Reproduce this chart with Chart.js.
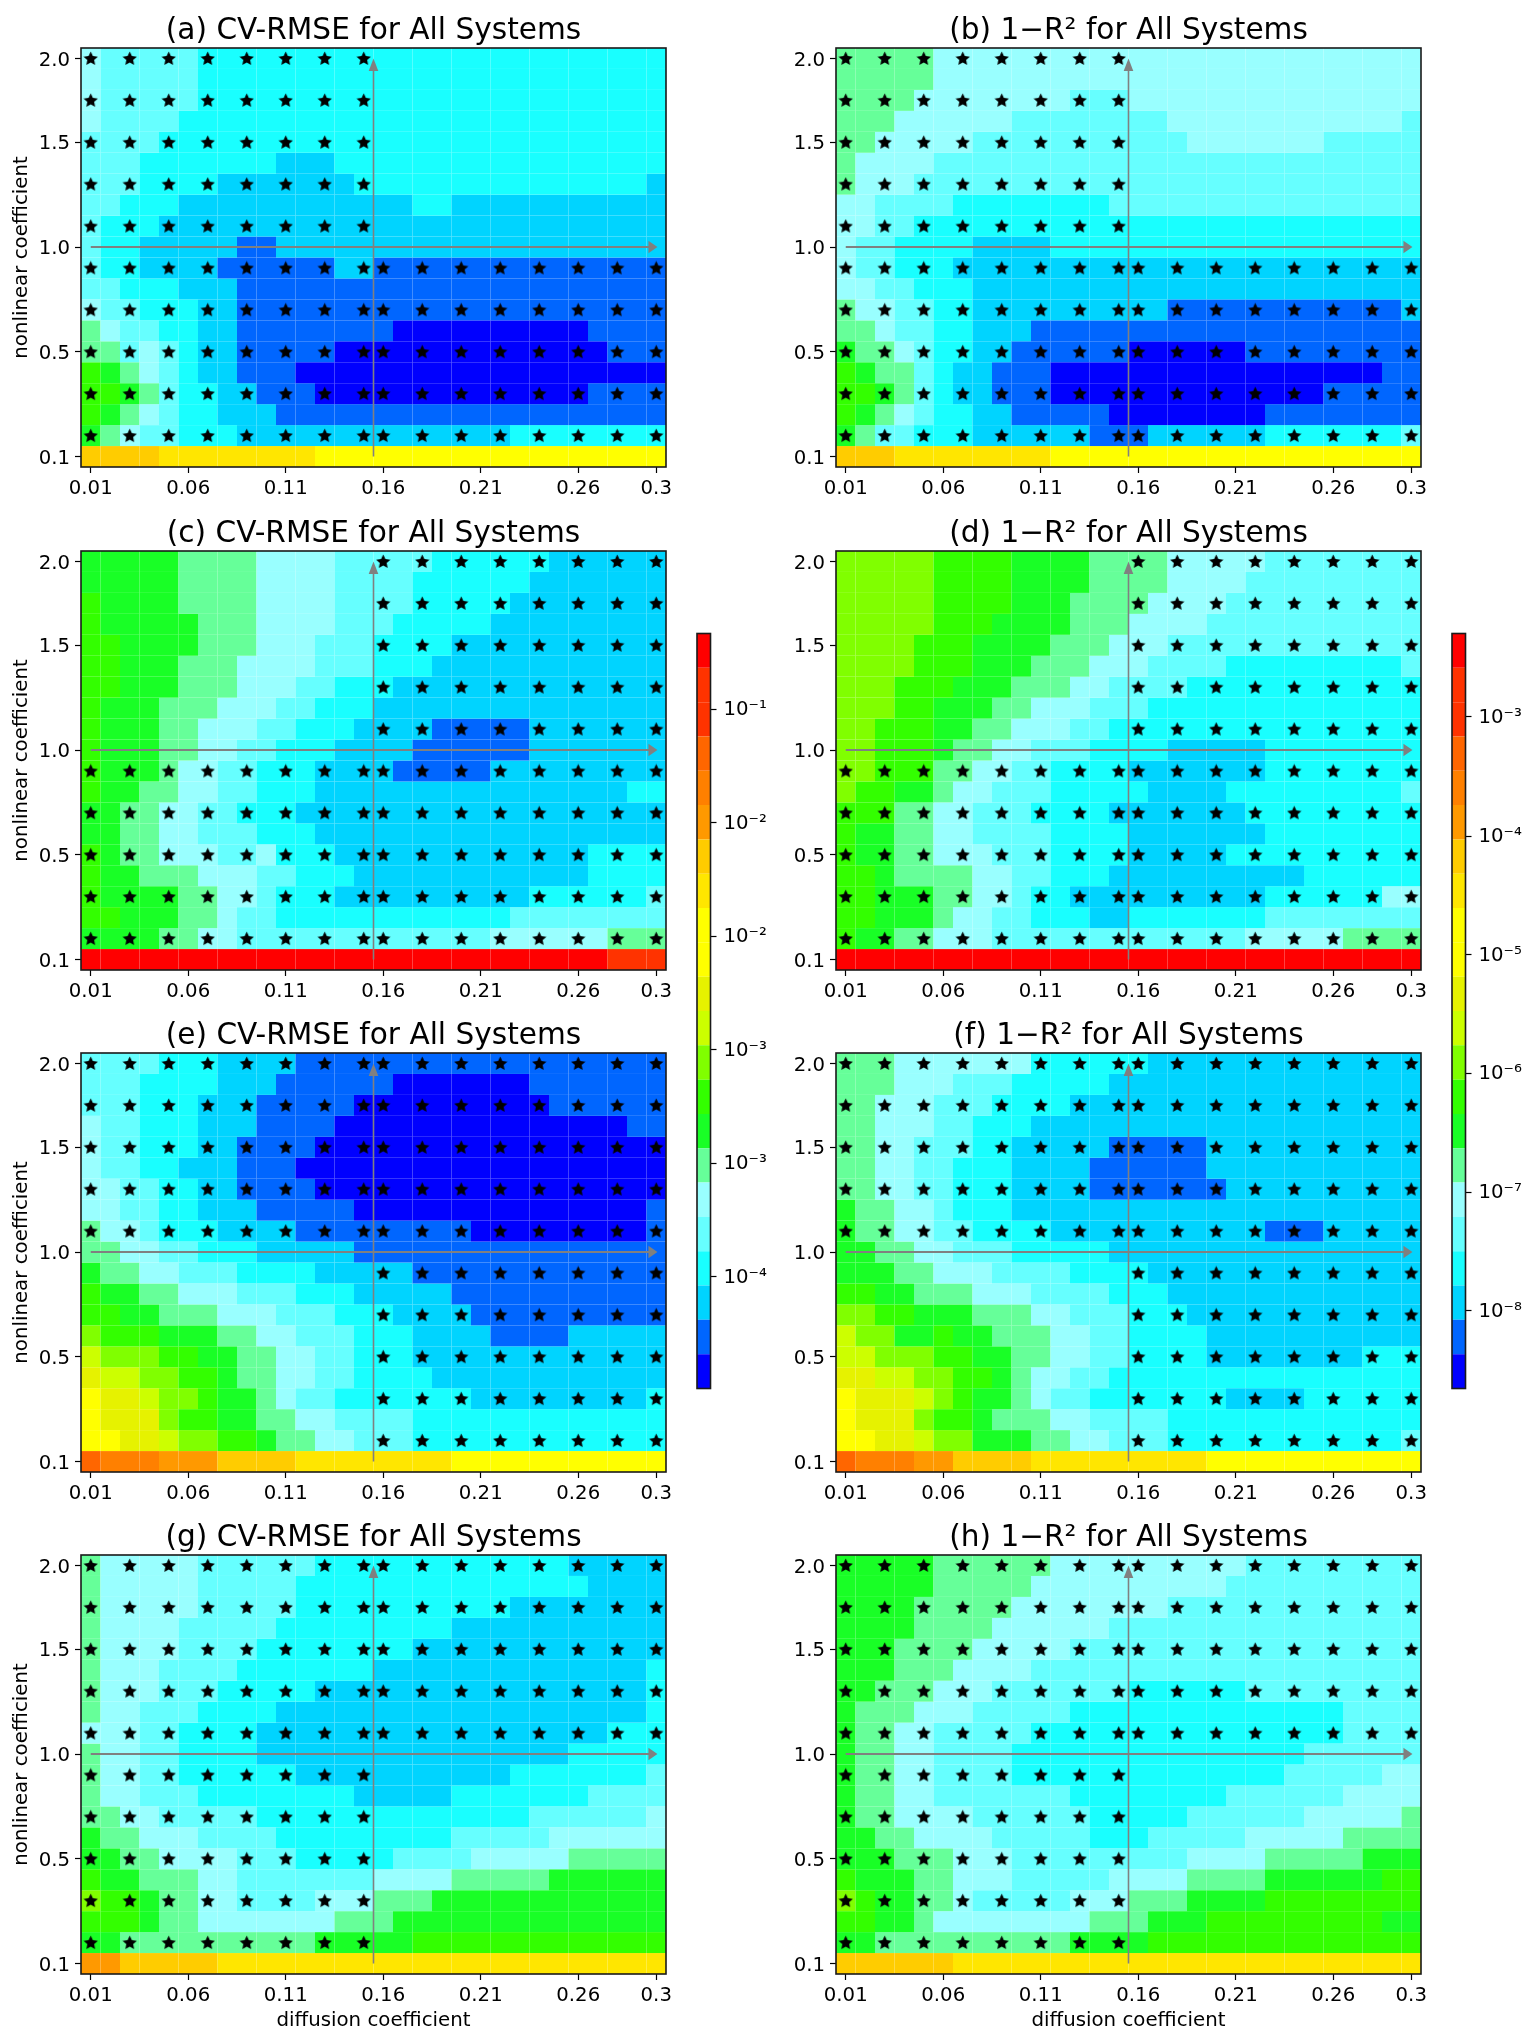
<!DOCTYPE html>
<html>
<head>
<meta charset="utf-8">
<title>CV-RMSE and 1-R2 heatmaps</title>
<script src="https://cdn.jsdelivr.net/npm/chart.js@4"></script>
<style>
  html, body { margin: 0; padding: 0; background: #fff; }
  #page { position: relative; width: 1540px; height: 2039px; overflow: hidden; }
  canvas { position: absolute; }
</style>
</head>
<body>
<div id="page"></div>
<script>
// axis categories and tick labels
const diffusion = ['0.01','0.02','0.03','0.04','0.05','0.06','0.07','0.08','0.09','0.1',
                   '0.11','0.12','0.13','0.14','0.15','0.16','0.17','0.18','0.19','0.2',
                   '0.21','0.22','0.23','0.24','0.25','0.26','0.27','0.28','0.29','0.3'];
const xTickLabels = ['0.01','0.06','0.11','0.16','0.21','0.26','0.3'];
const yTickRows = [0, 5, 10, 15, 19];
const yTickLabels = ['0.1','0.5','1.0','1.5','2.0'];

// colour bands of the colorbar, bottom to top
const bandColors = ['#0000ff','#0066ff','#00d4ff','#19ffff','#66ffff','#99ffff','#66ff99','#19ff26',
                    '#33ff00','#80ff00','#ccff00','#e6f200','#ffff00','#ffff00','#ffe600','#ffcc00',
                    '#ff9900','#ff8000','#ff6600','#ff3300','#ff3300','#ff0000'];
const cvTickPos = [19.79, 16.49, 13.18, 9.88, 6.56, 3.25];
const cvTickLabels = ['10⁻¹','10⁻²','10⁻²','10⁻³','10⁻³','10⁻⁴'];
const r2TickPos = [19.57, 16.09, 12.64, 9.19, 5.72, 2.26];
const r2TickLabels = ['10⁻³','10⁻⁴','10⁻⁵','10⁻⁶','10⁻⁷','10⁻⁸'];

// cells: one string per row, top row first.
// each token is band (base 22) x run length over the 30 columns
const panelA = [
  '5 4x5 3x24', '5 4x5 3x24', '5 4x5 3x24', '5 4x4 3x25', '4x4 3x26',
  '4x3 3x7 2x3 3x17', '4x3 3x4 2x7 3x15 2', '4x2 3x3 2x12 3x2 2x11', '4 3x3 2x26', '4 3x2 2x5 1x2 2x20',
  '4 3x2 2x4 1x6 2x2 1x15', '4x2 3x3 2x3 1x22', '5 4x2 3x3 2x2 1x22', '6 5 4x2 3x2 2x2 1x8 0x10 1x4', '6x2 4 5 4 3 2x2 1x5 0x14 1x3',
  '8 7 6 5 4 3 2x2 1x3 0x19', '8x2 7 6 4 3x2 2x2 1x3 0x14 1x4', '8 7 6 5 4 3x2 2x3 1x20', '7 6 5 4x2 3x3 2x14 3x8', 'fx4 ex8 cx18'
];
const panelB = [
  '6x5 5x25', '6x5 5x25', '6x4 5x8 4x3 5x15', '6x3 5x6 4x8 5x12 4', '6x2 5x5 4x11 5x7 4x5',
  '6 5x4 4x25', '6 5x3 4x26', '5x2 4x4 3x8 4x16', '5x2 4x2 3x26', '5 4x2 3x4 2x4 3x19',
  '5 4x2 3x3 2x24', '5x2 4x2 3x3 2x23', '6 5x2 4x2 3x2 2x10 1x12 2', '6x2 5 4x2 3x2 2x3 1x20', '7 6x2 5 4 3x2 2x2 1x6 0x6 1x9',
  '8 7 6x2 4 3 2x2 1x3 0x17 1x2', '8x2 7 6 4 3 2x2 1x3 0x14 1x5', '8 7 6 5 4 3x2 2x2 1x5 0x8 1x8', '7 6 4x2 3x3 2x6 1x3 2x6 3x7 4', 'fx3 ex8 cx19'
];
const panelC = [
  '7x5 6x4 5x4 4x5 3x6 2x6', '7x5 6x4 5x4 4x4 3x6 2x7', '8 7x4 6x4 5x4 4x4 3x5 2x8', '8 7x5 6x3 5x4 4x3 3x5 2x9', '8x2 7x4 6x3 5x3 4x3 3x4 2x11',
  '8x2 7x3 6x3 5x4 4x3 3x3 2x12', '8x2 7x3 6x3 5x3 4x2 3x3 2x14', '8 7x3 6x3 5x3 4x2 3x3 2x15', '8 7x3 6x2 5x3 4x2 3x3 2x4 1x5 2x7', '8 7x3 6x2 5x2 4x2 3x3 2x4 1x6 2x7',
  '8 7x3 6 5x2 4x2 3x3 2x4 1x5 2x9', '8 7x2 6x2 5x2 4x2 3x3 2x16 3x2', '7x2 6x2 5x2 4x2 3x3 2x19', '7x2 6x2 5x2 4x3 3x3 2x18', '8 7 6x2 5x3 4x2 5 3x3 2x13 3x4',
  '8 7x2 6x3 5x3 4x2 3x3 2x12 3x4', '8 7x4 6x2 5x2 4 3x3 2x10 3x6 4', '8x2 7x3 6x2 5 4x2 3x12 4x8', '7x4 6x2 5x2 4x13 5x6 6x3', 'lx27 jx3'
];
const panelD = [
  '9x5 8x4 7x4 6x4 5x5 4x8', '9x5 8x4 7x4 6x4 5x4 4x9', '9x5 8x4 7x3 6x4 5x4 4x10', '9x5 8x3 7x4 6x3 5x4 4x11', '9x4 8x3 7x4 6x3 5x3 4x13',
  '9x4 8x3 7x3 6x3 5x3 4x4 3x9 4', '9x3 8x3 7x3 6x3 5x2 4x4 3x12', '9x3 8x2 7x3 6x2 5x3 4x3 3x14', '9x2 8x3 7x2 6x2 5x3 4x2 3x16', '9x2 8x3 7 6x2 5x2 4x3 3x4 2x5 3x8',
  '9x2 8x3 6x2 5x2 4x2 3x4 2x7 3x8', '9 8x2 7x2 6 5x2 4x3 3x5 2x4 3x9 4', '8x3 6x2 5x2 4x3 3x4 2x7 3x9', '8 7x2 6x2 5x2 4x4 3x4 2x7 3x8', '8 7x2 6x2 5x3 4x3 3x4 2x5 3x10',
  '8x2 7 6x4 5x2 4x2 3x3 2x10 3x6', '8x2 7x3 6x2 5x2 4 3x2 2x10 3x6 5x2', '8x2 7x3 6 5x2 4x2 3x3 2x2 3x7 4x8', '8 7x2 6x2 5x3 4x13 5x5 6x4', 'lx30'
];
const panelE = [
  '4x4 3x3 2x4 1x19', '4x3 3x4 2x3 1x6 0x7 1x7', '4x3 3x3 2x3 1x5 0x10 1x6', '5 4x2 3x3 2x3 1x4 0x15 1x2', '5 4x2 3x3 2x2 1x4 0x18',
  '5 4x2 3x2 2x3 1x3 0x19', '5x2 4x2 3x2 2x2 1x4 0x18', '5x2 4x2 3x2 2x3 1x5 0x15 1', '6 5x2 4 3x3 2x4 1x9 0x9 1', '6x2 5x2 4x2 3x3 2x5 1x16',
  '7 6x2 5x2 4x3 3x4 2x5 1x13', '8 7x2 6x2 5x3 4x3 3x3 2x5 1x11', '8x2 7x2 6x3 5x3 4x3 3x3 2x4 1x10', '9 8x3 7x3 6x2 5x2 4x3 3x3 2x4 1x4 2x5', 'a 9x3 8x2 7x2 6x2 5x2 4x2 3x3 2x13',
  'b ax2 9x2 8x2 7 6x2 5x2 4x2 3x4 2x12', 'c bx2 a 9x2 8 7x2 6 5 4x2 3x7 2x9 3', 'c bx3 9 8x2 7x2 6x2 5x2 4x4 3x13', 'cx2 bx2 a 9x2 8x2 7 6x2 5x2 4x3 3x13', 'i hx3 gx3 fx4 ex8 cx11'
];
const panelF = [
  '6x3 5x7 3x6 2x14', '6x3 5x3 4x3 3x5 2x16', '6x2 5x3 4x3 3x4 2x18', '6x2 5x3 4x2 3x3 2x20', '6x2 5x2 4x3 3x2 2x5 1x5 2x11',
  '6x2 5x2 4x2 3x3 2x4 1x6 2x11', '6x2 5x2 4x2 3x3 2x4 1x7 2x10', '7 6x2 5x2 4 3x3 2x21', '7 6x2 5x2 4x2 3x4 2x11 1x3 2x5', '7x2 6x2 5x2 4x3 3x5 2x16',
  '7x3 6x2 5x3 4x4 3x4 2x14', '8x2 7x2 6x3 5x3 4x4 3x3 2x13', '9x2 8x2 7x3 6x3 5x2 4x3 3x3 2x12', 'a 9x2 7x2 8 7x2 6x3 5x2 4x2 3x4 2x11', 'ax2 9x3 8x2 7x2 6x2 5x2 4x2 3x4 2x8 3x3',
  'bx2 ax2 9x2 8x2 7 6 5x2 4x2 3x16', 'c bx3 a 9 8 7x2 6 5 4x2 3x7 2x4 3x6', 'c bx3 9 8x2 7 6x3 5x2 4x4 3x13', 'cx2 bx2 a 9x2 7x3 6x2 5x2 4x3 3x12 4', 'i hx3 gx2 fx4 ex9 cx11'
];
const panelG = [
  '6 5x5 4x6 3x13 2x5', '6 5x5 4x5 3x15 2x4', '6 5x5 4x5 3x11 2x8', '6 5x4 4x5 3x9 2x11', '6 5x4 4x4 3x8 2x13',
  '6 5x3 4x4 3x7 2x14 3', '6 5x3 4x3 3x5 2x17 3', '6 5x2 4x3 3x4 2x19 3', '5x3 4x2 3x4 2x18 3x3', '6 5x2 4x2 3x4 2x16 3x5',
  '6 5x2 4x2 3x6 2x11 3x7 4', '6 5x2 4x3 3x8 2x5 3x7 4x4', '6x2 5x2 4x5 3x14 4x6 5', '7 6x2 5x3 4x4 3x9 4x5 5x6', '7x2 6x2 5x4 4x3 3x5 4x4 5x5 6x5',
  '8 7x2 6x3 5x2 4x7 5x4 6x5 7x6', '9 8x2 7 6x2 5x2 4x4 5x3 6x3 7x12', '8x3 7 6x2 5x7 6x3 7x14', '7x2 6x10 7x5 8x13', 'gx2 fx5 ex23'
];
const panelH = [
  '7x5 6x6 5x10 4x9', '7x5 6x5 5x10 4x10', '7x4 6x5 5x8 4x13', '7x4 6x4 5x6 4x16', '7x3 6x4 5x5 4x18',
  '7x3 6x3 5x4 4x20', '7x2 6x3 5x3 4x7 3x6 4x9', '7 6x3 5x3 4x5 3x14 4x4', '7 6x2 5x2 4x5 3x16 4x4', '7 6x2 5x2 4x4 3x15 4x6',
  '7 6x2 5x2 4x4 3x14 4x5 5x2', '7 6x2 5x2 4x7 3x8 4x6 5x4', '7 6x2 5x4 4x6 3x5 4x6 5x5 6', '7x2 6x2 5x4 4x5 3x3 4x5 5x5 6x4', '7x3 6x3 5x3 4x9 5x4 6x5 7x3',
  '8 7x3 6x2 5x3 4x5 5x4 6x4 7x6 8x2', '9 8 7x2 6x2 5 4x5 5x3 6x3 7x4 8x8', '8x2 7x2 6 5x8 6x3 7x3 8x9 7x2', '7x2 6x10 7x4 8x14', 'fx6 ex24'
];

// stars sit on every other row/column, some quadrants stay empty
const starCols = [0,2,4,6,8,10,12,14,15,17,19,21,23,25,27,29];
const starRows = [0,2,4,6,8,10,12,14,16,18];

const panels = [
  { title: '(a) CV-RMSE for All Systems', rows: panelA, left: 0,   top: 0,    quads: ['tl','bl','br'] },
  { title: '(b) 1−R² for All Systems',    rows: panelB, left: 755, top: 0,    quads: ['tl','bl','br'] },
  { title: '(c) CV-RMSE for All Systems', rows: panelC, left: 0,   top: 503,  quads: ['tr','bl','br'] },
  { title: '(d) 1−R² for All Systems',    rows: panelD, left: 755, top: 503,  quads: ['tr','bl','br'] },
  { title: '(e) CV-RMSE for All Systems', rows: panelE, left: 0,   top: 1005, quads: ['tl','tr','br'] },
  { title: '(f) 1−R² for All Systems',    rows: panelF, left: 755, top: 1005, quads: ['tl','tr','br'] },
  { title: '(g) CV-RMSE for All Systems', rows: panelG, left: 0,   top: 1507, quads: ['tl','tr','bl'] },
  { title: '(h) 1−R² for All Systems',    rows: panelH, left: 755, top: 1507, quads: ['tl','tr','bl'] }
];

const FONT = '"DejaVu Sans", sans-serif';
Chart.defaults.font.family = FONT;
Chart.defaults.color = '#000';
Chart.defaults.animation = false;

function expandRow(row) {
  return row.split(' ').flatMap(t => {
    const [band, n] = t.split('x');
    return Array(Number(n || 1)).fill(parseInt(band, 22));
  });
}

function addCanvas(left, top, w, h) {
  const c = document.createElement('canvas');
  c.width = w;
  c.height = h;
  c.style.left = left + 'px';
  c.style.top = top + 'px';
  c.style.width = w + 'px';
  c.style.height = h + 'px';
  document.getElementById('page').appendChild(c);
  return c;
}

// filled five point star, chart.js only has the stroked one
function makeStar(size) {
  const c = document.createElement('canvas');
  c.width = size;
  c.height = size;
  const g = c.getContext('2d');
  const R = size / 2, r = R * 0.48;
  g.fillStyle = '#000';
  g.beginPath();
  for (let i = 0; i < 10; i++) {
    const rad = i % 2 ? r : R;
    const a = -Math.PI / 2 + i * Math.PI / 5;
    const px = R + rad * Math.cos(a), py = R + 0.5 + rad * Math.sin(a);
    if (i === 0) g.moveTo(px, py); else g.lineTo(px, py);
  }
  g.closePath();
  g.fill();
  return c;
}
const starImage = makeStar(15);

const framePlugin = {
  id: 'frame',
  afterDraw(chart) {
    const { ctx, chartArea: a } = chart;
    ctx.save();
    ctx.strokeStyle = '#1a1a1a';
    ctx.lineWidth = 1.6;
    ctx.strokeRect(a.left, a.top, a.right - a.left, a.bottom - a.top);
    ctx.restore();
  }
};

function arrowHead(ctx, tipX, tipY, baseX, baseY, halfW) {
  const vertical = tipX === baseX;
  ctx.beginPath();
  ctx.moveTo(tipX, tipY);
  if (vertical) {
    ctx.lineTo(baseX - halfW, baseY);
    ctx.lineTo(baseX + halfW, baseY);
  } else {
    ctx.lineTo(baseX, baseY - halfW);
    ctx.lineTo(baseX, baseY + halfW);
  }
  ctx.closePath();
  ctx.fill();
}

// the two grey arrows through the middle of every panel
const arrowPlugin = {
  id: 'arrows',
  afterDatasetsDraw(chart) {
    const { ctx, scales: { x, y } } = chart;
    ctx.save();
    ctx.strokeStyle = '#808080';
    ctx.fillStyle = '#808080';
    const hy = y.getPixelForValue(10);
    const x0 = x.getPixelForValue(0), x1 = x.getPixelForValue(29.06);
    ctx.lineWidth = 2;
    ctx.beginPath();
    ctx.moveTo(x0, hy);
    ctx.lineTo(x1 - 8, hy);
    ctx.stroke();
    arrowHead(ctx, x1, hy, x1 - 9, hy, 6.2);
    const vx = x.getPixelForValue(14.5);
    const y0 = y.getPixelForValue(0), y1 = y.getPixelForValue(19);
    ctx.lineWidth = 1.6;
    ctx.beginPath();
    ctx.moveTo(vx, y0);
    ctx.lineTo(vx, y1 + 10);
    ctx.stroke();
    arrowHead(ctx, vx, y1, vx, y1 + 12.5, 4.8);
    ctx.restore();
  }
};

function drawPanel(p, idx) {
  const isLeft = idx % 2 === 0;
  const isBottom = idx >= 6;
  const canvas = addCanvas(p.left, p.top, 696, 527);
  const cells = p.rows.map(expandRow);

  const datasets = cells.map((bands, r) => {
    const yVal = cells.length - 1 - r;
    return {
      type: 'bar',
      data: bands.map(() => [yVal - 0.5, yVal + 0.5]),
      backgroundColor: bands.map(b => bandColors[b]),
      borderWidth: 0,
      inflateAmount: 0,
      barPercentage: 1,
      categoryPercentage: 1,
      order: 2
    };
  });

  const stars = [];
  starRows.forEach(r => {
    starCols.forEach(c => {
      const q = (r <= 8 ? 't' : 'b') + (c <= 14 ? 'l' : 'r');
      if (p.quads.includes(q)) stars.push({ x: diffusion[c], y: cells.length - 1 - r });
    });
  });
  datasets.push({
    type: 'line',
    data: stars,
    showLine: false,
    pointStyle: starImage,
    pointRadius: 7,
    order: 1
  });

  new Chart(canvas, {
    data: { labels: diffusion, datasets },
    plugins: [framePlugin, arrowPlugin],
    options: {
      responsive: false,
      layout: { padding: { right: 30 } },
      plugins: {
        legend: { display: false },
        tooltip: { enabled: false },
        title: {
          display: true,
          text: p.title,
          fullSize: false,
          color: '#000',
          font: { size: 29.6, weight: 'normal', lineHeight: 1.1 },
          padding: { top: 14.7, bottom: 0.74 }
        }
      },
      scales: {
        x: {
          type: 'category',
          stacked: true,
          offset: true,
          grid: { offset: false, drawOnChartArea: false, tickLength: 6, tickColor: '#000', tickWidth: 1.2 },
          border: { display: false },
          ticks: { autoSkip: false, maxRotation: 0, padding: 4, font: { size: 19.7 } },
          afterBuildTicks: axis => {
            axis.ticks = axis.ticks.filter(t => xTickLabels.includes(diffusion[t.value]));
          },
          afterFit: axis => { axis.height = 60; },
          title: {
            display: isBottom,
            text: 'diffusion coefficient',
            font: { size: 19.8 },
            padding: { top: 0, bottom: 1.5 }
          }
        },
        y: {
          type: 'linear',
          stacked: false,
          min: -0.5,
          max: 19.5,
          grid: { drawOnChartArea: false, tickLength: 6, tickColor: '#000', tickWidth: 1.2 },
          border: { display: false },
          ticks: {
            autoSkip: false,
            padding: 5,
            labelOffset: 2,
            font: { size: 19.7 },
            callback: v => yTickLabels[yTickRows.indexOf(v)]
          },
          afterBuildTicks: axis => {
            axis.ticks = yTickRows.map(v => ({ value: v }));
          },
          afterFit: axis => { axis.width = 81; },
          title: {
            display: isLeft,
            text: 'nonlinear coefficient',
            font: { size: 19.8 },
            padding: { top: 10, bottom: 0 }
          }
        }
      }
    }
  });
}

function drawColorbar(left, tickPos, tickLabels) {
  const canvas = addCanvas(left, 623, 90, 776);
  const datasets = bandColors.map(col => ({
    data: [1],
    backgroundColor: col,
    borderWidth: 0,
    inflateAmount: 0,
    barPercentage: 1,
    categoryPercentage: 1
  }));
  new Chart(canvas, {
    type: 'bar',
    data: { labels: ['band'], datasets },
    plugins: [framePlugin],
    options: {
      responsive: false,
      layout: { padding: { top: 10.5, bottom: 10.5, left: 7, right: 0 } },
      plugins: { legend: { display: false }, tooltip: { enabled: false } },
      scales: {
        x: { display: false, stacked: true },
        y: {
          position: 'right',
          stacked: true,
          min: 0,
          max: 22,
          grid: { drawOnChartArea: false, tickLength: 6, tickColor: '#000', tickWidth: 1.2 },
          border: { display: false },
          ticks: {
            autoSkip: false,
            padding: 7,
            labelOffset: 1,
            font: { size: 19.7 },
            callback: v => tickLabels[tickPos.indexOf(v)]
          },
          afterBuildTicks: axis => {
            axis.ticks = tickPos.map(v => ({ value: v }));
          },
          afterFit: axis => {
            axis.width = 69.5;
            axis.paddingTop = 0;
            axis.paddingBottom = 0;
          }
        }
      }
    }
  });
}

panels.forEach(drawPanel);
drawColorbar(690, cvTickPos, cvTickLabels);
drawColorbar(1444.5, r2TickPos, r2TickLabels);
</script>
</body>
</html>
